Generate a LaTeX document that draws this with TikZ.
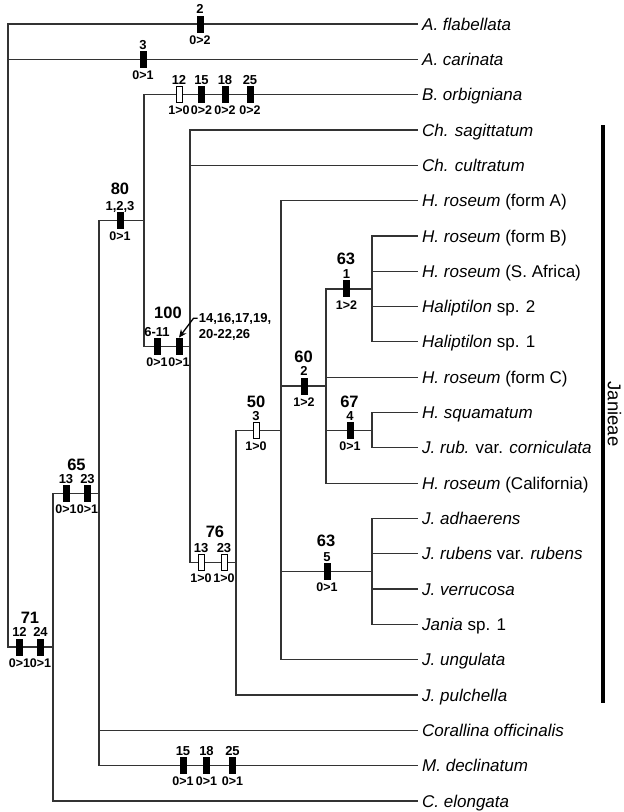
\documentclass[tikz,border=0pt]{standalone}
\usepackage{fontspec}
\setmainfont{Liberation Sans}
\usetikzlibrary{arrows.meta,positioning}

\tikzset{
  branch/.style={draw=black!80, line width=1.2pt},
  leaf/.style={anchor=west, inner xsep=4pt, inner ysep=0pt, text height=12.2pt, text depth=0pt,
    font=\fontsize{17}{20}\selectfont},
  synapo/.style={fill=black, minimum width=7pt, minimum height=17pt, inner sep=0pt},
  homopl/.style={draw=black, fill=white, line width=0.8pt, minimum width=6pt, minimum height=16pt, inner sep=0pt},
  chr/.style={font=\fontsize{13}{16}\selectfont\bfseries, inner sep=1.2pt, text depth=0pt},
  st/.style={font=\fontsize{12.5}{13}\selectfont\bfseries, inner sep=2.5pt},
  supp/.style={font=\fontsize{16.5}{17}\selectfont\bfseries, inner sep=0pt},
}

\begin{document}
\begin{tikzpicture}[x=1pt,y=-1pt]
  \useasboundingbox (0,0) rectangle (624,812);

  % taxa
  \foreach \nm/\txt [count=\i from 0] in {
      afl/{\textit{A. flabellata}}, aca/{\textit{A. carinata}}, bor/{\textit{B. orbigniana}},
      csa/{\textit{Ch. sagittatum}}, ccu/{\textit{Ch. cultratum}},
      hra/{\textit{H. roseum} (form A)}, hrb/{\textit{H. roseum} (form B)},
      hrs/{\textit{H. roseum} (S. Africa)}, hal2/{\textit{Haliptilon} sp. 2},
      hal1/{\textit{Haliptilon} sp. 1}, hrc/{\textit{H. roseum} (form C)},
      hsq/{\textit{H. squamatum}}, jco/{\textit{J. rub.} var. \textit{corniculata}},
      hca/{\textit{H. roseum} (California)}, jad/{\textit{J. adhaerens}},
      jru/{\textit{J. rubens} var. \textit{rubens}}, jve/{\textit{J. verrucosa}},
      jsp/{\textit{Jania} sp. 1}, jun/{\textit{J. ungulata}}, jpu/{\textit{J. pulchella}},
      cof/{\textit{Corallina officinalis}}, mde/{\textit{M. declinatum}}, cel/{\textit{C. elongata}}}
    \node[leaf] (\nm) at (418,24+35.318*\i) {\txt};

  % internal nodes
  \coordinate (root) at (8,336);
  \coordinate (n71)  at (53,647);
  \coordinate (n65)  at (99,493.1);
  \coordinate (n80)  at (144,220.4);
  \coordinate (n100) at (190,346.3);
  \coordinate (n76)  at (236,562.6);
  \coordinate (n50)  at (281,430.2);
  \coordinate (n60)  at (326,386);
  \coordinate (n63a) at (372,288.9);
  \coordinate (n67)  at (372,430.2);
  \coordinate (n63b) at (372,571.5);

  \draw[branch] (root) |- (afl.west) (root) |- (aca.west) (root) |- (n71);
  \draw[branch] (n71) |- (n65) (n71) |- (cel.west);
  \draw[branch] (n65) |- (n80) (n65) |- (cof.west) (n65) |- (mde.west);
  \draw[branch] (n80) |- (bor.west) (n80) |- (n100);
  \draw[branch] (n100) |- (csa.west) (n100) |- (ccu.west) (n100) |- (n76);
  \draw[branch] (n76) |- (n50) (n76) |- (jpu.west);
  \draw[branch] (n50) |- (hra.west) (n50) |- (n60) (n50) |- (n63b) (n50) |- (jun.west);
  \draw[branch] (n60) |- (n63a) (n60) |- (hrc.west) (n60) |- (n67) (n60) |- (hca.west);
  \draw[branch] (n63a) |- (hrb.west) (n63a) |- (hrs.west) (n63a) |- (hal2.west) (n63a) |- (hal1.west);
  \draw[branch] (n67) |- (hsq.west) (n67) |- (jco.west);
  \draw[branch] (n63b) |- (jad.west) (n63b) |- (jru.west) (n63b) |- (jve.west) (n63b) |- (jsp.west);

  % character changes on terminal branches
  \node[synapo, label={[chr]above:2}, label={[st]below:0>2}] (c2) at (200,0 |- afl.west) {};
  \node[synapo, label={[chr]above:3}, label={[st]below:0>1}] (c3) at (143,0 |- aca.west) {};
  \node[homopl, label={[chr]above:12}, label={[st]below:1>0}] (bo12) at (179,0 |- bor.west) {};
  \node[synapo, label={[chr]above:15}, label={[st]below:0>2}] (bo15) at (201.5,0 |- bor.west) {};
  \node[synapo, label={[chr]above:18}, label={[st]below:0>2}] (bo18) at (225,0 |- bor.west) {};
  \node[synapo, label={[chr]above:25}, label={[st]below:0>2}] (bo25) at (250,0 |- bor.west) {};
  \node[synapo, label={[chr]above:15}, label={[st]below:0>1}] (md15) at (183,0 |- mde.west) {};
  \node[synapo, label={[chr]above:18}, label={[st]below:0>1}] (md18) at (206.5,0 |- mde.west) {};
  \node[synapo, label={[chr]above:25}, label={[st]below:0>1}] (md25) at (232.5,0 |- mde.west) {};

  % character changes on internal branches
  \node[synapo, label={[chr]above:12}, label={[st]below:0>1}] (b71a) at (19.5,0 |- n71) {};
  \node[synapo, label={[chr]above:24}, label={[st]below:0>1}] (b71b) at (40.5,0 |- n71) {};
  \node[synapo, label={[chr]above:13}, label={[st]below:0>1}] (b65a) at (66,0 |- n65) {};
  \node[synapo, label={[chr]above:23}, label={[st]below:0>1}] (b65b) at (87.5,0 |- n65) {};
  \node[synapo, label={[chr]above:{1,2,3}}, label={[st]below:0>1}] (b80) at (120,0 |- n80) {};
  \node[synapo, label={[chr]above:6-11}, label={[st]below:0>1}] (b100a) at (157,0 |- n100) {};
  \node[synapo, label={[st]below:0>1}] (b100b) at (179,0 |- n100) {};
  \node[homopl, label={[chr]above:13}, label={[st]below:1>0}] (b76a) at (201,0 |- n76) {};
  \node[homopl, label={[chr]above:23}, label={[st]below:1>0}] (b76b) at (224,0 |- n76) {};
  \node[homopl, label={[chr]above:3}, label={[st]below:1>0}] (b50) at (256,0 |- n50) {};
  \node[synapo, label={[chr]above:2}, label={[st]below:1>2}] (b60) at (304,0 |- n60) {};
  \node[synapo, label={[chr]above:1}, label={[st]below:1>2}] (b63a) at (346.5,0 |- n63a) {};
  \node[synapo, label={[chr]above:4}, label={[st]below:0>1}] (b67) at (350,0 |- n67) {};
  \node[synapo, label={[chr]above:5}, label={[st]below:0>1}] (b63b) at (327,0 |- n63b) {};

  \node[chr, anchor=north west, align=left] (ann) at (197.5,311.8) {14,16,17,19,\\20-22,26};
  \draw[-{Stealth[length=8pt,width=7pt]}, line width=1.3pt]
    ([yshift=-6.5pt]ann.north west) -- ++(-4,0) -- (b100b.north);

  % support values
  \node[supp] (s71)  at (30,617.5)    {71};
  \node[supp] (s65)  at (76.5,465)    {65};
  \node[supp] (s80)  at (120,188.5)   {80};
  \node[supp] (s100) at (168,313)     {100};
  \node[supp] (s76)  at (215,532)     {76};
  \node[supp] (s50)  at (256,401.5)   {50};
  \node[supp] (s60)  at (303.5,357)   {60};
  \node[supp] (s63a) at (346,259)     {63};
  \node[supp] (s67)  at (349.5,401.5) {67};
  \node[supp] (s63b) at (326,541)     {63};

  % tribe
  \coordinate (jtop) at (603,125);
  \coordinate (jbot) at (603,703);
  \draw[line width=4.3pt] (jtop) -- (jbot);
  \node[rotate=-90, font=\fontsize{18.5}{19}\selectfont] (jan) at (614.5,414) {Janieae};
\end{tikzpicture}
\end{document}
